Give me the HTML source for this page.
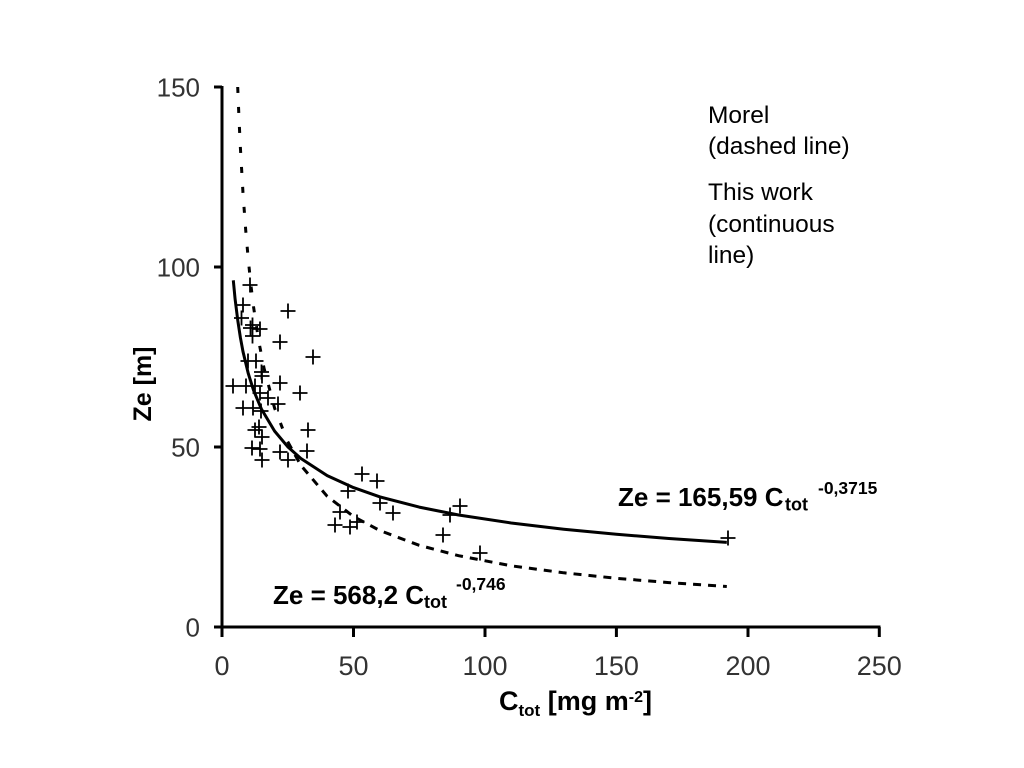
<!DOCTYPE html>
<html>
<head>
<meta charset="utf-8">
<style>
  html, body { margin:0; padding:0; background:#fff; }
  svg { display:block; }
  text { font-family: "Liberation Sans", Arial, sans-serif; }
</style>
</head>
<body>
<svg width="1024" height="768" viewBox="0 0 1024 768" xmlns="http://www.w3.org/2000/svg">
  <rect width="1024" height="768" fill="#fff"/>

  <g stroke="#000" stroke-width="3" fill="none">
    <line x1="222" y1="86" x2="222" y2="628.5"/>
    <line x1="220.5" y1="627" x2="880.5" y2="627"/>
    <line x1="214" y1="87" x2="222" y2="87"/>
    <line x1="214" y1="267" x2="222" y2="267"/>
    <line x1="214" y1="447" x2="222" y2="447"/>
    <line x1="214" y1="627" x2="222" y2="627"/>
    <line x1="222" y1="627" x2="222" y2="637"/>
    <line x1="353.5" y1="627" x2="353.5" y2="637"/>
    <line x1="485" y1="627" x2="485" y2="637"/>
    <line x1="616.4" y1="627" x2="616.4" y2="637"/>
    <line x1="748" y1="627" x2="748" y2="637"/>
    <line x1="879.3" y1="627" x2="879.3" y2="637"/>
  </g>

  <g font-size="26" fill="#333" text-anchor="end">
    <text x="200" y="96.5">150</text>
    <text x="200" y="276.5">100</text>
    <text x="200" y="456.5">50</text>
    <text x="200" y="636.5">0</text>
  </g>

  <g font-size="27" fill="#333" text-anchor="middle">
    <text x="222" y="675">0</text>
    <text x="353.5" y="675">50</text>
    <text x="485" y="675">100</text>
    <text x="616.4" y="675">150</text>
    <text x="748" y="675">200</text>
    <text x="879.3" y="675">250</text>
  </g>

  <text transform="translate(151,384) rotate(-90)" text-anchor="middle" font-size="25" font-weight="bold" fill="#000">Ze [m]</text>

  <text x="499" y="710" font-size="27" font-weight="bold" fill="#000">C<tspan font-size="17" dy="6">tot</tspan><tspan dy="-6"> [mg m</tspan><tspan font-size="16" dy="-8">-2</tspan><tspan dy="8">]</tspan></text>

  <polyline fill="none" stroke="#000" stroke-width="3" stroke-linejoin="round"
    points="233.3,280.3 235.1,299.1 237.8,320.6 240.4,337.6 243.0,351.6 248.3,373.6 253.5,390.2 261.4,409.0 274.6,431.1 287.7,446.7 300.9,458.5 327.2,475.6 353.5,487.6 379.7,496.8 419.2,507.1 458.6,515.0 511.2,523.0 563.8,529.2 616.4,534.3 668.9,538.5 726.8,542.4"/>

  <polyline fill="none" stroke="#000" stroke-width="3" stroke-dasharray="6 14"
    points="237.7,87 239.1,120.8 240.4,147.9 243.0,193.3 245.7,230.0 248.3,259.8 250.9,285.0 253.5,306.6 258.8,341.5 264.1,368.5 274.6,408.1 287.7,441.6"/>
  <polyline fill="none" stroke="#000" stroke-width="3" stroke-dasharray="8 7"
    points="287.7,441.6 300.9,465.4 327.2,496.3 353.5,516.5 379.7,530.5 419.2,545.3 458.6,555.7 511.2,565.8 563.8,572.8 616.4,578.3 668.9,582.6 726.8,586.5"/>

  <g stroke="#000" stroke-width="1.8" fill="none">
    <path d="M242.5,285h15M250,277.5v15 M235.5,305h15M243,297.5v15 M234,318h15M241.5,310.5v15 M243,328h15M250.5,320.5v15 M252.5,329h15M260,321.5v15 M245,325h15M252.5,317.5v15 M245,336h15M252.5,328.5v15 M280.5,311h15M288,303.5v15 M272.5,342h15M280,334.5v15 M240.5,361h15M248,353.5v15 M248.5,361h15M256,353.5v15 M254,372h15M261.5,364.5v15 M305.5,357h15M313,349.5v15 M225.5,386h15M233,378.5v15 M238.5,386h15M246,378.5v15 M247.5,386h15M255,378.5v15 M254.5,376h15M262,368.5v15 M272.5,383h15M280,375.5v15 M292.5,393h15M300,385.5v15 M252.5,393h15M260,385.5v15 M260.5,398h15M268,390.5v15 M235.5,408h15M243,400.5v15 M245.5,408h15M253,400.5v15 M253.5,411h15M261,403.5v15 M270.5,404h15M278,396.5v15 M251.5,427h15M259,419.5v15 M247.5,430h15M255,422.5v15 M300.5,430h15M308,422.5v15 M254.5,437h15M262,429.5v15 M244.5,448h15M252,440.5v15 M252.5,449h15M260,441.5v15 M272.5,452h15M280,444.5v15 M254.5,460h15M262,452.5v15 M280.5,460h15M288,452.5v15 M299.5,451h15M307,443.5v15 M354.5,474h15M362,466.5v15 M369.5,481h15M377,473.5v15 M340.5,491h15M348,483.5v15 M372.5,503h15M380,495.5v15 M385.5,513h15M393,505.5v15 M332.5,512h15M340,504.5v15 M327.5,525h15M335,517.5v15 M342.5,527h15M350,519.5v15 M349.5,522h15M357,514.5v15 M452.5,506h15M460,498.5v15 M442.5,515h15M450,507.5v15 M435.5,535h15M443,527.5v15 M472.5,553h15M480,545.5v15 M720.5,538h15M728,530.5v15"/>
  </g>

  <g font-weight="bold" fill="#000">
    <text x="273" y="604" font-size="26">Ze = 568,2 C</text>
    <text x="424" y="608" font-size="18">tot</text>
    <text x="456" y="590" font-size="17.5">-0,746</text>
    <text x="618" y="506" font-size="26">Ze = 165,59 C</text>
    <text x="785" y="510.5" font-size="18">tot</text>
    <text x="818" y="494" font-size="17.5">-0,3715</text>
  </g>

  <g font-size="24.5" fill="#000">
    <text x="708" y="123">Morel</text>
    <text x="708" y="154">(dashed line)</text>
    <text x="708" y="200">This work</text>
    <text x="708" y="232">(continuous</text>
    <text x="708" y="263">line)</text>
  </g>
</svg>
</body>
</html>
